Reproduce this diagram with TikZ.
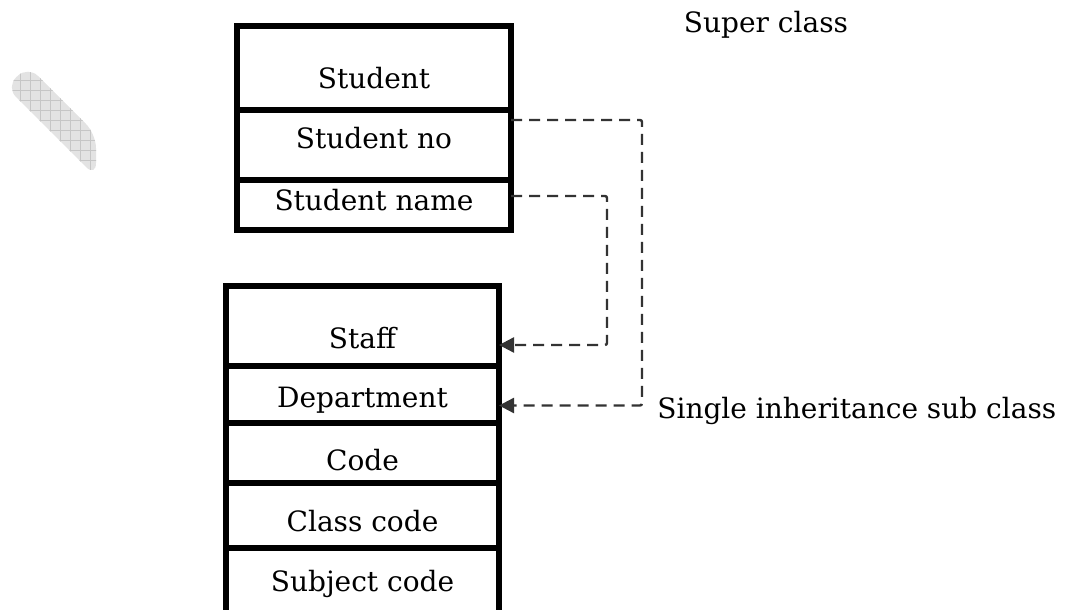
\documentclass[tikz,border=0pt]{standalone}
\usepackage{fontspec}
\setmainfont{DejaVu Serif}
\usetikzlibrary{positioning, arrows.meta}

\begin{document}
\begin{tikzpicture}[x=0.5pt, y=-0.5pt,
    row/.style={rectangle, draw, line width=3pt, outer sep=0pt, inner sep=0pt},
    txt/.style={font=\fontsize{14}{16}\selectfont},
    link/.style={line width=1.2pt, black!80, dash pattern=on 5.5pt off 3.5pt, rounded corners=1pt, -{Triangle[length=7.5pt, width=7.5pt]}}]
        \useasboundingbox (0,0) rectangle (1067,610);

        % Watermark
        \begin{scope}
            \clip[rounded corners=7pt] (28,66) -- (96,134) -- (96,177) -- (6,87) -- cycle;
            \fill[gray!22] (0,60) rectangle (100,180);
            \draw[gray!45, line width=0.4pt, step=5pt] (0,60) grid (100,180);
        \end{scope}

        % Super class
        \node (student) [row, minimum width=137pt, minimum height=42pt, label={[txt, yshift=-5pt]center:Student}] at (374,68) {};
        \node (studentno) [row, minimum width=137pt, minimum height=35pt, below=0pt of student, label={[txt, yshift=3.5pt]center:Student no}] {};
        \node (studentname) [row, minimum width=137pt, minimum height=25pt, below=0pt of studentno, label={[txt, yshift=2.5pt]center:Student name}] {};

        % Sub class
        \node (staff) [row, minimum width=136.5pt, minimum height=40pt, label={[txt, yshift=-6pt]center:Staff}] at (362.5,326) {};
        \node (department) [row, minimum width=136.5pt, minimum height=28.5pt, below=0pt of staff, label={[txt, yshift=-3pt]center:Department}] {};
        \node (code) [row, minimum width=136.5pt, minimum height=30pt, below=0pt of department, label={[txt, yshift=-3.5pt]center:Code}] {};
        \node (classcode) [row, minimum width=136.5pt, minimum height=32.5pt, below=0pt of code, label={[txt, yshift=-3pt]center:Class code}] {};
        \node (subjectcode) [row, minimum width=136.5pt, minimum height=36pt, below=0pt of classcode, label={[txt, yshift=0pt]center:Subject code}] {};

        % Labels
        \node (superlbl) [txt, anchor=base] at (766,33) {Super class};
        \node (sublbl) [txt, anchor=base west, inner sep=0pt] at (657,418) {Single inheritance sub class};

        % Arrows
        \draw[link] ([yshift=12.5pt]studentno.east) -- ++(131,0) |- ([yshift=-5.5pt]department.east);
        \draw[link] ([yshift=4.5pt]studentname.east) -- ++(96,0) |- ([yshift=-9.5pt]staff.east);
\end{tikzpicture}
\end{document}
